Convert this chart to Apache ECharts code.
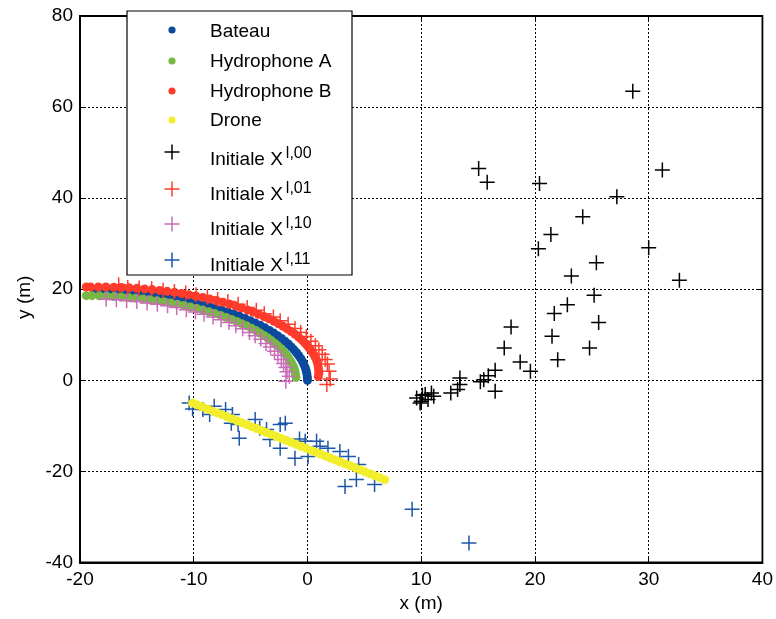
<!DOCTYPE html>
<html>
<head>
<meta charset="utf-8">
<script src="https://cdn.jsdelivr.net/npm/echarts@6/dist/echarts.min.js"></script>
<style>html,body{margin:0;padding:0;background:#fff}#c{width:776px;height:619px}</style>
</head>
<body>
<div id="c"></div>
<script>
// ---- axes ----
const xTicks = [-20, -10, 0, 10, 20, 30, 40];
const yTicks = [-40, -20, 0, 20, 40, 60, 80];
const xName = 'x (m)';
const yName = 'y (m)';

// ---- series names ----
const names = ['Bateau', 'Hydrophone A', 'Hydrophone B', 'Drone',
  'Initiale X00', 'Initiale X01', 'Initiale X10', 'Initiale X11'];
const supers = ['l,00', 'l,01', 'l,10', 'l,11'];

// ---- data ----
const bateau = [[0,0],[-0.01,0.68],[-0.05,1.37],[-0.11,2.05],[-0.19,2.73],[-0.30,3.40],[-0.43,4.08],[-0.58,4.74],[-0.76,5.40],[-0.96,6.06],[-1.18,6.70],[-1.43,7.34],[-1.69,7.97],[-1.98,8.59],[-2.29,9.20],[-2.63,9.80],[-2.98,10.39],[-3.35,10.96],[-3.74,11.52],[-4.15,12.07],[-4.59,12.60],[-5.03,13.11],[-5.50,13.62],[-5.98,14.10],[-6.48,14.57],[-7.00,15.01],[-7.53,15.45],[-8.08,15.86],[-8.64,16.25],[-9.21,16.62],[-9.80,16.97],[-10.40,17.31],[-11.01,17.62],[-11.63,17.91],[-12.26,18.17],[-12.90,18.42],[-13.54,18.64],[-14.20,18.84],[-14.86,19.02],[-15.52,19.17],[-16.20,19.30],[-16.87,19.41],[-17.55,19.49],[-18.23,19.55],[-18.70,19.59]];
const hydroA = [[-1.01,0.65],[-1.05,1.30],[-1.10,1.94],[-1.18,2.59],[-1.28,3.23],[-1.41,3.87],[-1.55,4.50],[-1.72,5.13],[-1.91,5.75],[-2.12,6.36],[-2.35,6.97],[-2.61,7.57],[-2.88,8.15],[-3.18,8.73],[-3.49,9.30],[-3.83,9.86],[-4.18,10.40],[-4.55,10.93],[-4.94,11.45],[-5.35,11.96],[-5.78,12.45],[-6.22,12.92],[-6.68,13.38],[-7.15,13.82],[-7.64,14.25],[-8.15,14.66],[-8.67,15.05],[-9.20,15.42],[-9.74,15.77],[-10.30,16.11],[-10.87,16.42],[-11.45,16.72],[-12.03,16.99],[-12.63,17.25],[-13.24,17.48],[-13.85,17.69],[-14.47,17.88],[-15.10,18.05],[-15.73,18.19],[-16.37,18.32],[-17.01,18.42],[-17.66,18.50],[-18.30,18.56],[-18.95,18.59],[-19.45,18.60]];
const hydroB = [[0.95,0.85],[1.0,1.58],[0.98,2.27],[0.95,2.95],[0.90,3.63],[0.82,4.30],[0.70,4.98],[0.56,5.64],[0.40,6.30],[0.20,6.96],[-0.02,7.60],[-0.25,8.24],[-0.50,8.87],[-0.78,9.49],[-1.09,10.10],[-1.43,10.70],[-1.78,11.29],[-2.15,11.86],[-2.54,12.42],[-2.95,12.97],[-3.39,13.50],[-3.83,14.01],[-4.30,14.52],[-4.78,15.00],[-5.28,15.47],[-5.80,15.91],[-6.33,16.35],[-6.88,16.76],[-7.44,17.15],[-8.01,17.52],[-8.60,17.87],[-9.20,18.21],[-9.81,18.52],[-10.43,18.81],[-11.06,19.07],[-11.70,19.32],[-12.34,19.54],[-13.00,19.74],[-13.66,19.92],[-14.32,20.07],[-15.00,20.20],[-15.67,20.31],[-16.35,20.39],[-17.03,20.45],[-17.72,20.49],[-18.40,20.50],[-19.08,20.49],[-19.45,20.50]];
const drone = [[-10.10,-5.00],[-9.67,-5.43],[-9.23,-5.86],[-8.80,-6.29],[-8.37,-6.72],[-7.94,-7.15],[-7.50,-7.58],[-7.07,-8.01],[-6.64,-8.44],[-6.20,-8.88],[-5.77,-9.30],[-5.34,-9.73],[-4.90,-10.17],[-4.47,-10.60],[-4.04,-11.03],[-3.61,-11.45],[-3.17,-11.89],[-2.74,-12.32],[-2.31,-12.75],[-1.87,-13.18],[-1.44,-13.61],[-1.01,-14.04],[-0.57,-14.48],[-0.14,-14.90],[0.29,-15.33],[0.73,-15.77],[1.16,-16.20],[1.59,-16.62],[2.02,-17.05],[2.46,-17.49],[2.89,-17.92],[3.32,-18.35],[3.76,-18.78],[4.19,-19.21],[4.62,-19.64],[5.05,-20.07],[5.49,-20.51],[5.92,-20.94],[6.35,-21.37],[6.80,-21.81]];
const init00 = [[28.6,63.5],[15.05,46.5],[15.8,43.5],[20.4,43.2],[31.2,46.2],[27.2,40.3],[24.2,35.9],[21.4,32.0],[20.3,28.9],[30.0,29.1],[25.4,25.8],[23.2,22.9],[32.7,22.0],[25.2,18.7],[22.85,16.6],[21.7,14.7],[25.6,12.7],[17.9,11.7],[21.5,9.7],[17.3,7.1],[24.8,7.1],[18.7,4.0],[22.0,4.5],[19.6,2.0],[16.5,2.2],[15.9,1.0],[15.5,0.15],[16.5,-2.4],[13.4,0.5],[13.4,-0.9],[13.2,-2.0],[12.6,-2.8],[9.6,-3.9],[10.0,-4.6],[10.35,-3.1],[10.9,-2.8],[11.1,-3.5],[10.1,-3.3],[10.6,-4.2],[9.9,-5.0],[15.2,-0.3]];
const init01 = [[1.7,-0.9],[2.0,0.3],[1.9,2.0],[1.75,3.6],[1.55,4.6],[1.3,5.7],[1.0,6.7],[0.7,7.6],[0.3,8.6],[-0.1,9.6],[-0.6,10.5],[-1.1,11.4],[-1.7,12.3],[-2.4,13.1],[-3.0,13.9],[-3.8,14.6],[-4.5,15.4],[-5.3,16.0],[-6.1,16.7],[-7.0,17.3],[-7.9,17.8],[-8.8,18.3],[-9.8,18.8],[-10.7,19.2],[-11.7,19.5],[-12.7,19.8],[-13.7,20.1],[-14.8,20.3],[-15.8,20.4],[-16.6,21.0]];
const init10 = [[-1.9,-0.2],[-1.6,0.9],[-1.8,1.9],[-1.9,2.8],[-2.1,3.7],[-2.3,4.6],[-2.6,5.5],[-2.9,6.4],[-3.25,7.3],[-3.65,8.1],[-4.1,9.0],[-4.6,9.8],[-5.1,10.5],[-5.7,11.3],[-6.3,12.0],[-6.9,12.7],[-7.6,13.3],[-8.3,13.9],[-9.1,14.5],[-9.85,15.0],[-10.65,15.5],[-11.5,16.0],[-12.3,16.4],[-13.2,16.7],[-14.1,17.0],[-15.0,17.3],[-15.9,17.5],[-16.8,17.7],[-17.7,17.8]];
const init11 = [[-10.4,-5.0],[-10.1,-6.3],[-9.2,-6.4],[-8.2,-5.7],[-8.6,-7.5],[-7.2,-6.4],[-6.6,-7.5],[-6.7,-9.4],[-6.1,-9.7],[-6.0,-12.7],[-4.6,-8.6],[-4.2,-10.5],[-3.6,-10.8],[-3.3,-13.0],[-2.4,-14.9],[-2.4,-9.7],[-1.95,-9.4],[-1.1,-17.1],[-0.7,-12.9],[-0.2,-13.4],[0.05,-16.7],[0.8,-13.4],[1.1,-14.5],[1.8,-14.9],[2.85,-15.6],[3.6,-16.7],[4.5,-18.5],[3.3,-23.3],[4.3,-21.8],[5.9,-22.9],[9.2,-28.3],[14.2,-35.7]];

// ---- style ----
const C = {
  bateau: '#0b4a9c', hydA: '#79b744', hydB: '#ff3b2c', drone: '#f3ee2b',
  x00: '#000000', x01: '#ff3b2c', x10: '#c86cb8', x11: '#1d57a8'
};
const FONT = "'Liberation Sans', Arial, sans-serif";
const CROSS = 'path://M7,0 L7,14 M0,7 L14,7';

function dots(name, data, color, size) {
  return { name, type: 'scatter', data, symbol: 'circle', symbolSize: size,
    itemStyle: { color, opacity: 1 }, emphasis: { disabled: true }, silent: true, animation: false };
}
function crosses(name, data, color) {
  return { name, type: 'scatter', data, symbol: CROSS, symbolSize: 15,
    itemStyle: { color: color, borderColor: color, borderWidth: 1.5, opacity: 1 },
    emphasis: { disabled: true }, silent: true, animation: false };
}

// ---- legend drawn as graphic ----
const LX = 127, LY = 11, LW = 225, LH = 264;
const markX = 172, textX = 210;
const rowY = [32, 62, 91.5, 120.5, 158, 193, 228, 264];
const markY = [30, 61, 91, 120, 152, 189, 224, 260];
const legendSpec = [
  { t: 'dot', c: C.bateau }, { t: 'dot', c: C.hydA }, { t: 'dot', c: C.hydB }, { t: 'dot', c: C.drone },
  { t: 'cross', c: C.x00 }, { t: 'cross', c: C.x01 }, { t: 'cross', c: C.x10 }, { t: 'cross', c: C.x11 }
];
const gfx = [{ type: 'rect', shape: { x: LX, y: LY, width: LW, height: LH },
  style: { fill: '#fff', stroke: '#000', lineWidth: 1.2 }, z: 100 }];
legendSpec.forEach((s, i) => {
  const y = rowY[i], my = markY[i];
  if (s.t === 'dot') {
    gfx.push({ type: 'circle', shape: { cx: markX, cy: my, r: 3.6 }, style: { fill: s.c }, z: 101 });
    gfx.push({ type: 'text', x: textX, y: y, style: { text: names[i], font: '19px ' + FONT, fill: '#000', verticalAlign: 'middle' }, z: 101 });
  } else {
    gfx.push({ type: 'polyline', shape: { points: [[markX - 7.5, my], [markX + 7.5, my]] }, style: { stroke: s.c, lineWidth: 1.5 }, z: 101 });
    gfx.push({ type: 'polyline', shape: { points: [[markX, my - 7.5], [markX, my + 7.5]] }, style: { stroke: s.c, lineWidth: 1.5 }, z: 101 });
    gfx.push({ type: 'text', x: textX, y: y + 2, style: {
      text: '{m|Initiale X}{s|' + supers[i - 4] + '}',
      verticalAlign: 'middle',
      rich: {
        m: { fontSize: 19, fontFamily: FONT, fill: '#000', verticalAlign: 'bottom', lineHeight: 19 },
        s: { fontSize: 16, fontFamily: FONT, fill: '#000', verticalAlign: 'bottom', padding: [0, 0, 8, 3], lineHeight: 16 }
      } }, z: 101 });
  }
});

const axisText = { color: '#000', fontSize: 19, fontFamily: FONT };
const grid = { left: 80, right: 12, top: 16, bottom: 56.5, show: true, borderColor: '#000', borderWidth: 1.8, backgroundColor: '#fff' };

const option = {
  animation: false,
  backgroundColor: '#fff',
  grid,
  xAxis: [{
    type: 'value', min: xTicks[0], max: xTicks[xTicks.length - 1], interval: xTicks[1] - xTicks[0],
    name: xName, nameLocation: 'middle', nameGap: 31, nameTextStyle: axisText,
    axisLine: { show: true, onZero: false, lineStyle: { color: '#000', width: 1.8 } },
    axisTick: { show: true, inside: true, length: 5, lineStyle: { color: '#000' } },
    axisLabel: Object.assign({ margin: 8 }, axisText),
    splitLine: { show: true, lineStyle: { color: '#000', type: [2, 2], width: 1 } }
  }, {
    type: 'value', position: 'top', min: xTicks[0], max: xTicks[xTicks.length - 1], interval: xTicks[1] - xTicks[0],
    axisLine: { show: false, onZero: false }, axisTick: { show: true, inside: true, length: 5, lineStyle: { color: '#000' } },
    axisLabel: { show: false }, splitLine: { show: false }
  }],
  yAxis: [{
    type: 'value', min: yTicks[0], max: yTicks[yTicks.length - 1], interval: yTicks[1] - yTicks[0],
    name: yName, nameLocation: 'middle', nameGap: 40,
    nameTextStyle: Object.assign({ padding: [0, 16, 0, 0] }, axisText),
    axisLine: { show: true, onZero: false, lineStyle: { color: '#000', width: 1.8 } },
    axisTick: { show: true, inside: true, length: 5, lineStyle: { color: '#000' } },
    axisLabel: Object.assign({ margin: 7 }, axisText),
    splitLine: { show: true, lineStyle: { color: '#000', type: [2, 2], width: 1 } }
  }, {
    type: 'value', position: 'right', min: yTicks[0], max: yTicks[yTicks.length - 1], interval: yTicks[1] - yTicks[0],
    axisLine: { show: false, onZero: false }, axisTick: { show: true, inside: true, length: 5, lineStyle: { color: '#000' } },
    axisLabel: { show: false }, splitLine: { show: false }
  }],
  series: [
    dots(names[0], bateau, C.bateau, 9),
    dots(names[1], hydroA, C.hydA, 9),
    crosses(names[6], init10, C.x10),
    dots(names[2], hydroB, C.hydB, 9),
    crosses(names[5], init01, C.x01),
    crosses(names[7], init11, C.x11),
    dots(names[3], drone, C.drone, 9),
    crosses(names[4], init00, C.x00)
  ],
  graphic: gfx
};

const chart = echarts.init(document.getElementById('c'), null, { renderer: 'canvas' });
chart.setOption(option);
</script>
</body>
</html>
